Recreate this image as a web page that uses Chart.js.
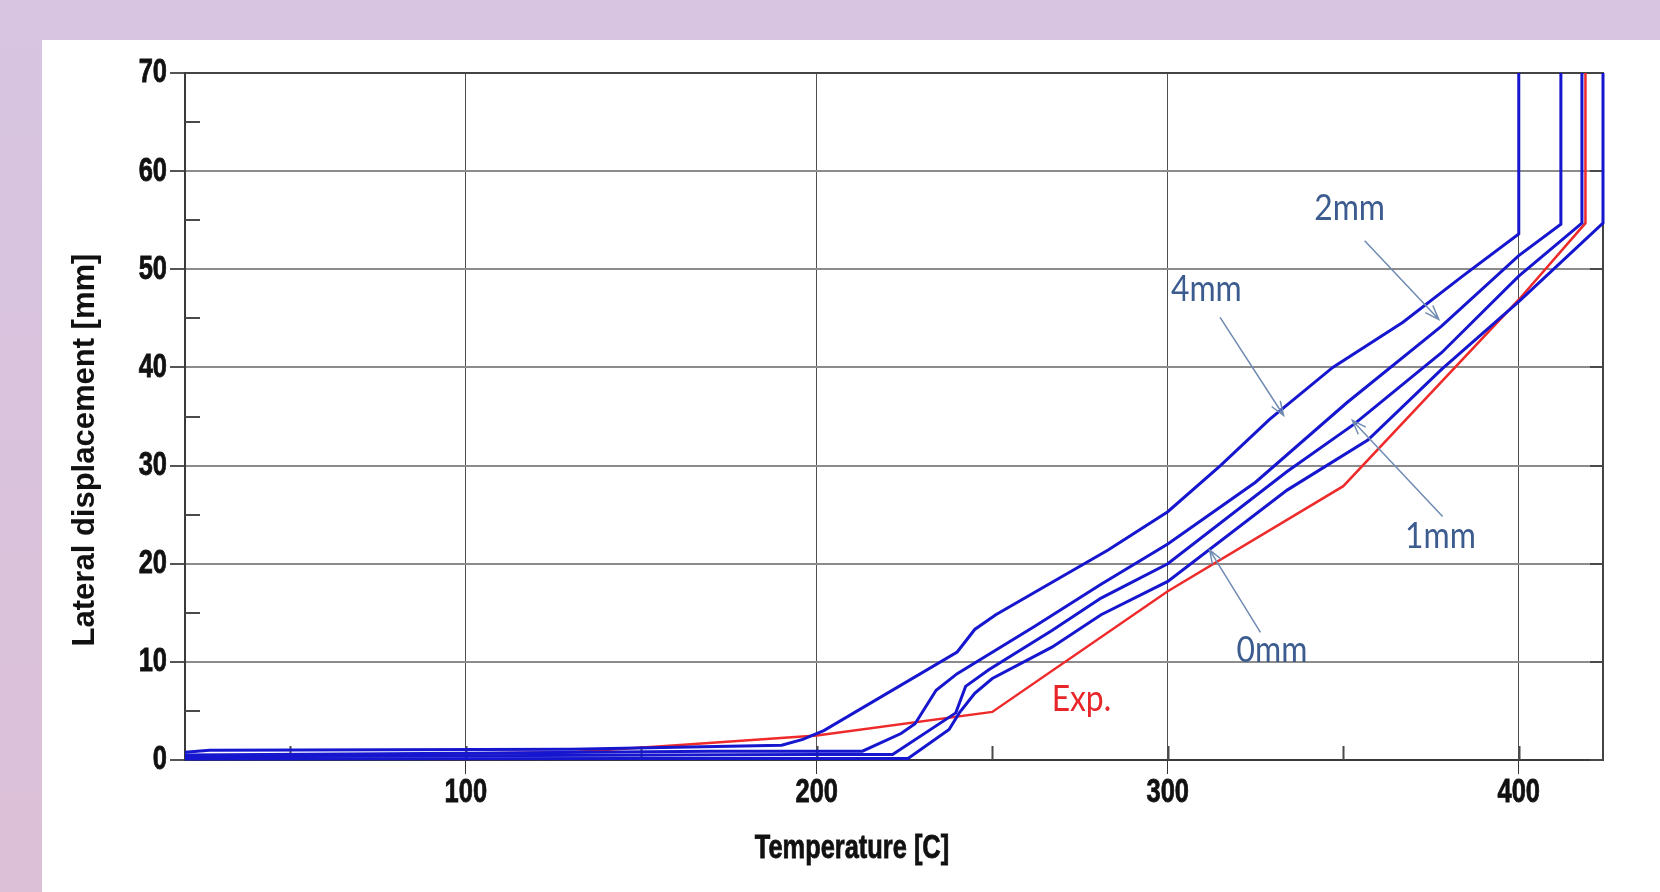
<!DOCTYPE html>
<html>
<head>
<meta charset="utf-8">
<style>
  html, body { margin: 0; padding: 0; }
  body { width: 1660px; height: 892px; overflow: hidden; position: relative;
         background: linear-gradient(#d7c5e1, #dcc0d8); }
  #panel { position: absolute; left: 42px; top: 40px; right: 0; bottom: 0; background: #fff; }
  #chart { position: absolute; left: 0; top: 0; }
</style>
</head>
<body>
<div id="panel"></div>
<canvas id="chart" width="1660" height="892"></canvas>
<script src="https://cdn.jsdelivr.net/npm/chart.js"></script>
<script>
// axis ticks
const tempTicks = [100, 200, 300, 400];
const tempMinor = [50, 150, 250, 350];
const dispTicks = [0, 10, 20, 30, 40, 50, 60, 70];
const dispMinor = [5, 15, 25, 35, 45, 55, 65];

// simulated curves (temperature C / lateral displacement mm)
const mm4Temp = [20, 27, 130, 190, 196, 202, 240, 245, 251, 283, 300, 315, 329, 347, 367, 384, 400, 400];
const mm4Disp = [0.8, 1.0, 1.1, 1.5, 2.1, 3.0, 11.0, 13.3, 14.8, 21.4, 25.3, 30.0, 34.7, 40.0, 44.6, 49.3, 53.6, 70];

const mm2Temp = [20, 100, 170, 213, 224, 228, 234, 240, 262, 281, 300, 325, 351, 378, 400, 412, 412];
const mm2Disp = [0.5, 0.7, 0.9, 0.9, 2.7, 3.7, 7.1, 8.8, 13.6, 17.9, 22.0, 28.3, 36.4, 44.2, 51.4, 54.6, 70];

const mm1Temp = [20, 120, 200, 221.6, 239.6, 242.4, 249, 267, 281, 300, 334, 353, 378, 400, 418, 418];
const mm1Disp = [0.3, 0.45, 0.55, 0.55, 4.8, 7.5, 9.2, 13.2, 16.5, 20.0, 29.4, 34.2, 41.5, 49.3, 54.7, 70];

const mm0Temp = [20, 150, 226, 237.7, 240.6, 245, 250, 267, 281, 300, 334, 357, 378, 400, 424, 424];
const mm0Disp = [0.1, 0.15, 0.15, 3.1, 4.8, 6.8, 8.3, 11.5, 14.8, 18.2, 27.5, 32.6, 39.8, 46.7, 54.7, 70];

// experiment
const expTemp = [20, 130, 160, 200, 250, 300, 350, 400, 419, 419];
const expDisp = [0.3, 0.8, 1.5, 2.5, 4.9, 17.2, 27.9, 46.9, 54.7, 70];

// callout labels, anchored in data units
const notes = [
  { text: '2mm', at: [351.8, 56.2], from: [356.1, 52.9], to: [377.2, 44.9] },
  { text: '4mm', at: [311.0, 48.0], from: [314.9, 45.1], to: [333.0, 35.1] },
  { text: '1mm', at: [377.7, 22.8], from: [378.3, 24.8], to: [352.6, 34.6] },
  { text: '0mm', at: [329.7, 11.2], from: [326.4, 13.0], to: [311.9, 21.4] },
  { text: 'Exp.', at: [275.4, 6.2], red: true }
];

const BLUE = '#1616cf';
const RED = '#ee2a2a';
const SANS = "'Liberation Sans', Arial, sans-serif";

function pts(xs, ys) {
  return xs.map((x, i) => ({ x: x, y: ys[i] }));
}

function series(label, xs, ys, color, w) {
  return {
    label: label,
    data: pts(xs, ys),
    showLine: true,
    borderColor: color,
    borderWidth: w,
    pointRadius: 0,
    tension: 0,
    clip: 4
  };
}

// narrow heavy text (Arial Narrow Bold look)
function narrowText(ctx, str, px, py, align, sx) {
  ctx.save();
  ctx.translate(px, py);
  ctx.scale(sx, 1);
  ctx.textAlign = align;
  ctx.fillText(str, 0, 0);
  ctx.strokeText(str, 0, 0);
  ctx.restore();
}

const frame = {
  id: 'frame',
  beforeDatasetsDraw(chart) {
    const { ctx, chartArea: a, scales: { x, y } } = chart;
    ctx.save();
    ctx.strokeStyle = '#4a4a4a';
    ctx.lineWidth = 2;
    ctx.beginPath();
    dispMinor.forEach(v => {
      const py = Math.round(y.getPixelForValue(v));
      ctx.moveTo(a.left, py); ctx.lineTo(a.left + 15, py);
    });
    dispTicks.forEach(v => {
      const py = Math.round(y.getPixelForValue(v));
      ctx.moveTo(a.right - 13, py); ctx.lineTo(a.right, py);
    });
    tempMinor.concat(tempTicks).forEach(v => {
      const px = Math.round(x.getPixelForValue(v)) + 0.5;
      ctx.moveTo(px, a.bottom); ctx.lineTo(px, a.bottom - 14);
    });
    ctx.stroke();
    ctx.strokeStyle = '#444';
    ctx.beginPath();
    ctx.moveTo(a.left, a.top); ctx.lineTo(a.right, a.top); ctx.lineTo(a.right, a.bottom);
    ctx.stroke();
    ctx.restore();
  },
  afterDatasetsDraw(chart) {
    const { ctx, scales: { x, y } } = chart;
    ctx.save();
    notes.forEach(n => {
      if (n.from) {
        const x1 = x.getPixelForValue(n.from[0]), y1 = y.getPixelForValue(n.from[1]);
        const x2 = x.getPixelForValue(n.to[0]), y2 = y.getPixelForValue(n.to[1]);
        const ang = Math.atan2(y2 - y1, x2 - x1);
        ctx.strokeStyle = '#6f8bb2';
        ctx.lineWidth = 1.5;
        ctx.beginPath();
        ctx.moveTo(x1, y1); ctx.lineTo(x2, y2);
        ctx.moveTo(x2 - 15 * Math.cos(ang - 0.35), y2 - 15 * Math.sin(ang - 0.35));
        ctx.lineTo(x2, y2);
        ctx.lineTo(x2 - 15 * Math.cos(ang + 0.35), y2 - 15 * Math.sin(ang + 0.35));
        ctx.stroke();
      }
      ctx.save();
      ctx.translate(x.getPixelForValue(n.at[0]), y.getPixelForValue(n.at[1]));
      ctx.scale(0.86, 1);
      ctx.fillStyle = n.red ? '#e8262a' : '#3c5c90';
      ctx.font = '37px Lato, sans-serif';
      ctx.textAlign = 'center';
      ctx.textBaseline = 'middle';
      ctx.fillText(n.text, 0, 0);
      ctx.restore();
    });
    ctx.restore();
  },
  afterDraw(chart) {
    const { ctx, chartArea: a, scales: { x, y } } = chart;
    ctx.save();
    ctx.fillStyle = '#111';
    ctx.strokeStyle = '#111';
    ctx.lineWidth = 0.8;
    ctx.textBaseline = 'middle';
    ctx.font = 'bold 34px ' + SANS;
    // tick labels from the scales
    x.ticks.forEach(t => narrowText(ctx, String(t.value), x.getPixelForValue(t.value), a.bottom + 33, 'center', 0.75));
    y.ticks.forEach(t => narrowText(ctx, String(t.value), a.left - 18, y.getPixelForValue(t.value), 'right', 0.75));
    // axis titles
    ctx.font = 'bold 33px ' + SANS;
    narrowText(ctx, 'Temperature [C]', 852, 849, 'center', 0.77);
    ctx.translate(85, 450);
    ctx.rotate(-Math.PI / 2);
    ctx.textAlign = 'center';
    ctx.font = 'bold 31px ' + SANS;
    ctx.fillText('Lateral displacement [mm]', 0, 0);
    ctx.restore();
  }
};

new Chart(document.getElementById('chart'), {
  type: 'scatter',
  data: {
    datasets: [
      series('4mm', mm4Temp, mm4Disp, BLUE, 3),
      series('2mm', mm2Temp, mm2Disp, BLUE, 3),
      series('1mm', mm1Temp, mm1Disp, BLUE, 3),
      series('0mm', mm0Temp, mm0Disp, BLUE, 3),
      series('Exp.', expTemp, expDisp, RED, 2.5)
    ]
  },
  options: {
    responsive: false,
    animation: false,
    devicePixelRatio: 1,
    layout: { padding: { top: 73, right: 57, left: 0, bottom: 0 } },
    plugins: { legend: { display: false }, tooltip: { enabled: false } },
    scales: {
      x: {
        type: 'linear',
        min: 20,
        max: 424,
        afterBuildTicks: s => { s.ticks = tempTicks.map(v => ({ value: v })); },
        afterFit: s => { s.height = 132; },
        grid: { color: '#505050', lineWidth: 1, tickLength: 14, tickColor: '#333' },
        border: { color: '#3a3a3a', width: 2 },
        ticks: { display: false }
      },
      y: {
        type: 'linear',
        min: 0,
        max: 70,
        afterBuildTicks: s => { s.ticks = dispTicks.map(v => ({ value: v })); },
        afterFit: s => { s.width = 185; },
        grid: { color: '#8c8c8c', lineWidth: 2, tickLength: 15, tickColor: '#555' },
        border: { color: '#3a3a3a', width: 2 },
        ticks: { display: false }
      }
    }
  },
  plugins: [frame]
});
</script>
</body>
</html>
